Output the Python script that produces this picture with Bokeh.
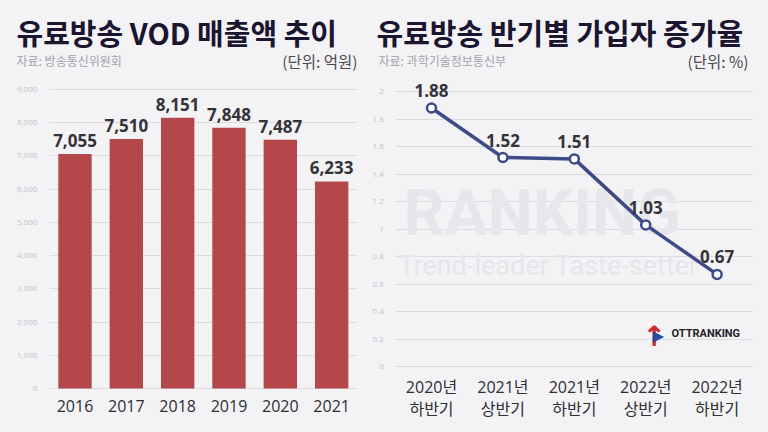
from bokeh.plotting import figure
from bokeh.models import ColumnDataSource, Label, Range1d, FixedTicker, NumeralTickFormatter
from bokeh.layouts import row
from bokeh.embed import file_html
from bokeh.resources import INLINE
from bokeh.core.properties import value

# ---- data ----
years = ["2016", "2017", "2018", "2019", "2020", "2021"]
vod_sales = [7055, 7510, 8151, 7848, 7487, 6233]
vod_labels = ["7,055", "7,510", "8,151", "7,848", "7,487", "6,233"]
sales_ticks = [0, 1000, 2000, 3000, 4000, 5000, 6000, 7000, 8000, 9000]

periods = ["2020년\n하반기", "2021년\n상반기", "2021년\n하반기", "2022년\n상반기", "2022년\n하반기"]
growth = [1.88, 1.52, 1.51, 1.03, 0.67]
growth_labels = ["1.88", "1.52", "1.51", "1.03", "0.67"]
growth_ticks = [0, 0.2, 0.4, 0.6, 0.8, 1.0, 1.2, 1.4, 1.6, 1.8, 2.0]

# ---- style ----
BG = "#f3f2f5"
BAR = "#b3474a"
LINE = "#3f4b86"
TITLE = "#1b1530"
GRID = "#dcdce0"
TICK = "#c4c4ca"
KFONT = "Noto Sans CJK KR"
NFONT = "Open Sans"
MIXFONT = "'Open Sans', 'Noto Sans CJK KR'"


def make_fig(width, xr, yr):
    p = figure(width=width, height=432, x_range=xr, y_range=yr, title=None,
               output_backend="svg", toolbar_location=None, min_border=0,
               min_border_left=0, min_border_right=0, min_border_top=0, min_border_bottom=0)
    p.background_fill_color = BG
    p.border_fill_color = BG
    p.outline_line_color = None
    p.xgrid.visible = False
    p.ygrid.grid_line_color = GRID
    p.ygrid.grid_line_width = 1
    for ax in (p.xaxis, p.yaxis):
        ax.axis_line_color = None
        ax.major_tick_line_color = None
        ax.minor_tick_line_color = None
    p.yaxis.major_label_text_font_size = "8px"
    p.yaxis.major_label_text_color = TICK
    p.yaxis.major_label_text_font = NFONT
    p.yaxis.major_label_standoff = 6
    p.xaxis.major_label_text_font = MIXFONT
    p.xaxis.major_label_text_font_size = "16px"
    p.xaxis.major_label_text_color = "#2e2e33"
    return p


def label(p, x, y, text, size, color, bold=False, align="left", font=KFONT, level=None):
    kw = {}
    if level:
        kw["level"] = level
    p.add_layout(Label(x=x, y=y, x_units="screen", y_units="screen", text=text,
                       text_font=font, text_font_size=size, text_color=color,
                       text_font_style="bold" if bold else "normal",
                       text_baseline="middle", text_align=align, **kw))


# ---- left: VOD sales bar chart ----
year_idx = list(range(len(years)))
left_src = ColumnDataSource(dict(x=year_idx, sales=vod_sales, label=vod_labels))
left = make_fig(368, Range1d(-1.4514, 5.718), Range1d(-1324, 11679))
left.yaxis.ticker = FixedTicker(ticks=sales_ticks)
left.ygrid.ticker = FixedTicker(ticks=sales_ticks)
left.ygrid.cross_bounds = (-0.5, len(years) - 0.5)
left.yaxis.formatter = NumeralTickFormatter(format="0,0")
left.yaxis.fixed_location = -0.5
left.xaxis.ticker = FixedTicker(ticks=year_idx)
left.xaxis.major_label_overrides = {i: y for i, y in zip(year_idx, years)}
left.xaxis.fixed_location = 0
left.xaxis.major_label_standoff = 5

left.vbar(x="x", top="sales", width=0.65, source=left_src, fill_color=BAR, line_color=None)
left.text(x="x", y="sales", text="label", source=left_src, text_align="center",
          text_baseline="bottom", y_offset=-7, text_font=value(NFONT),
          text_font_size="17px", text_font_style="bold", text_color="#333338")

label(left, 16, 401, "유료방송 VOD 매출액 추이", "29px", TITLE, bold=True)
label(left, 16, 372, "자료: 방송통신위원회", "12px", "#a2a2a8")
label(left, 357, 372, "(단위: 억원)", "15.5px", "#4a4a4e", align="right")

# ---- right: subscriber growth line chart ----
per_idx = list(range(len(periods)))
right_src = ColumnDataSource(dict(x=per_idx, growth=growth, label=growth_labels))
right = make_fig(400, Range1d(-0.8824, 4.7198), Range1d(-0.48, 2.662))
right.yaxis.ticker = FixedTicker(ticks=growth_ticks)
right.ygrid.ticker = FixedTicker(ticks=growth_ticks)
right.ygrid.cross_bounds = (-0.5, len(periods) - 0.5)
right.yaxis.formatter = NumeralTickFormatter(format="0.[0]")
right.yaxis.fixed_location = -0.5
right.xaxis.ticker = FixedTicker(ticks=per_idx)
right.xaxis.major_label_overrides = {i: s for i, s in zip(per_idx, periods)}
right.xaxis.fixed_location = 0
right.xaxis.major_label_standoff = 3
right.xaxis.major_label_text_line_height = 1.0

# faint watermark
label(right, 35, 219, "RANKING", "64px", "#e7e7eb", bold=True, font="Roboto", level="underlay")
label(right, 30, 167, "Trend-leader Taste-setter", "27px", "#e6e6ea", font="Roboto", level="underlay")

right.line(x="x", y="growth", source=right_src, line_color=LINE, line_width=3.5)
right.scatter(x="x", y="growth", source=right_src, size=9, fill_color="white",
              line_color=LINE, line_width=2.5)
right.text(x="x", y="growth", text="label", source=right_src, text_align="center",
           text_baseline="bottom", y_offset=-11, text_font=value(NFONT),
           text_font_size="17px", text_font_style="bold", text_color="#333338")

label(right, 8, 401, "유료방송 반기별 가입자 증가율", "29px", TITLE, bold=True)
label(right, 10, 372, "자료: 과학기술정보통신부", "12px", "#a2a2a8")
label(right, 380, 372, "(단위: %)", "15.5px", "#4a4a4e", align="right")

# small logo
label(right, 274, 96, "↑", "28px", "#d42a2f", bold=True, font="DejaVu Sans")
label(right, 284, 97, "▶", "15px", "#2a4a9a", font="DejaVu Sans")
label(right, 303, 99, "OTTRANKING", "11px", "#222226", bold=True, font="Roboto")

layout = row(left, right, spacing=0)
layout.styles = {"background-color": BG}

open("out.html", "w").write(file_html(layout, INLINE))
